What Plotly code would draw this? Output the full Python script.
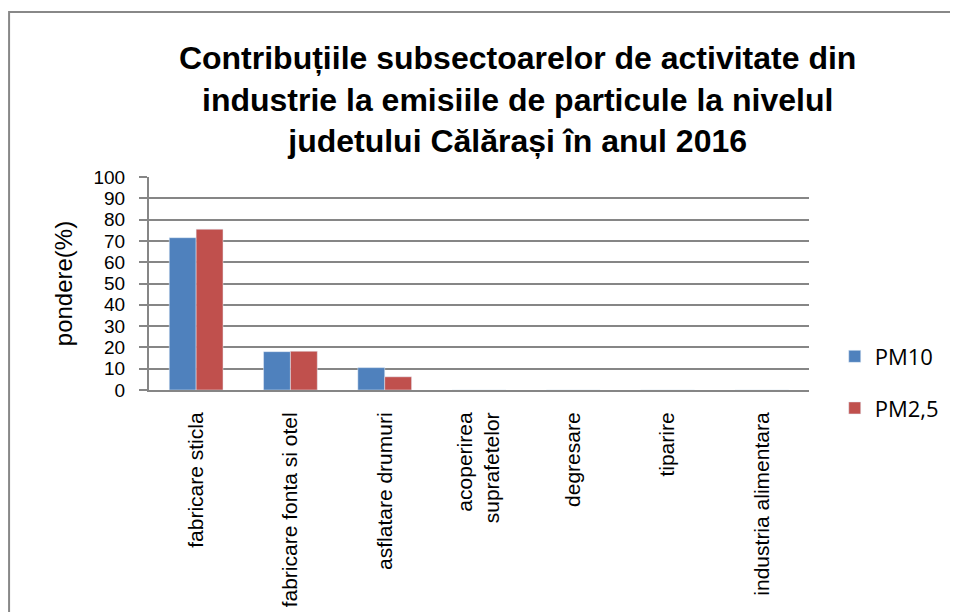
import plotly.graph_objects as go

categories = ["fabricare sticla", "fabricare fonta si otel", "asflatare drumuri",
              "acoperirea<br>suprafetelor", "degresare", "tiparire", "industria alimentara"]
pm10 = [71.5, 18.0, 10.5, 0, 0, 0, 0]
pm25 = [75.5, 18.2, 6.2, 0, 0, 0, 0]
series_names = ["PM10", "PM2,5"]
title_lines = ["Contribuțiile subsectoarelor de activitate din",
               "industrie la emisiile de particule la nivelul",
               "judetului Călărași în anul 2016"]
y_ticks = list(range(0, 101, 10))

fig = go.Figure()
fig.add_trace(go.Bar(x=categories, y=pm10, name=series_names[0], marker_color="#4F81BD",
                     legendgroup="a"))
fig.add_trace(go.Bar(x=categories, y=pm25, name=series_names[1], marker_color="#C0504D",
                     legendgroup="b"))

fig.update_layout(
    width=958, height=612,
    margin=dict(l=141, r=157, t=169, b=230),
    paper_bgcolor="white", plot_bgcolor="white",
    bargap=0.43, bargroupgap=0,
    font=dict(family="Liberation Sans, Arial", color="black"),
    title=dict(text="<br>".join(title_lines), x=0.532, xanchor="center",
               y=0.9, yanchor="middle", yref="container",
               font=dict(size=32, family="Liberation Sans, Arial", color="black", weight="bold")),
    legend=dict(x=1.039, y=0.035, xanchor="left", yanchor="middle",
                traceorder="grouped", tracegroupgap=20,
                font=dict(size=22, family="Open Sans, Liberation Sans"), itemwidth=30),
    showlegend=True,
)
fig.update_xaxes(showline=True, linecolor="#868686", linewidth=2, tickangle=-90,
                 tickfont=dict(size=21), ticks="", showgrid=False, ticklabelstandoff=12)
fig.update_yaxes(range=[0, 100], tickvals=y_ticks, showline=True, linecolor="#868686",
                 linewidth=2, ticks="outside", ticklen=8, tickcolor="#868686", tickwidth=2,
                 showgrid=True, gridcolor="#868686", gridwidth=1.5,
                 tickfont=dict(size=19), ticklabelstandoff=10,
                 title=dict(text="pondere(%)", font=dict(size=24), standoff=14))
fig.add_shape(type="rect", xref="paper", yref="paper", x0=-0.212, x1=2.0, y0=-2.0, y1=1.775,
              line=dict(color="#888888", width=2), fillcolor="rgba(0,0,0,0)", layer="below")
fig.write_html("out.html")
